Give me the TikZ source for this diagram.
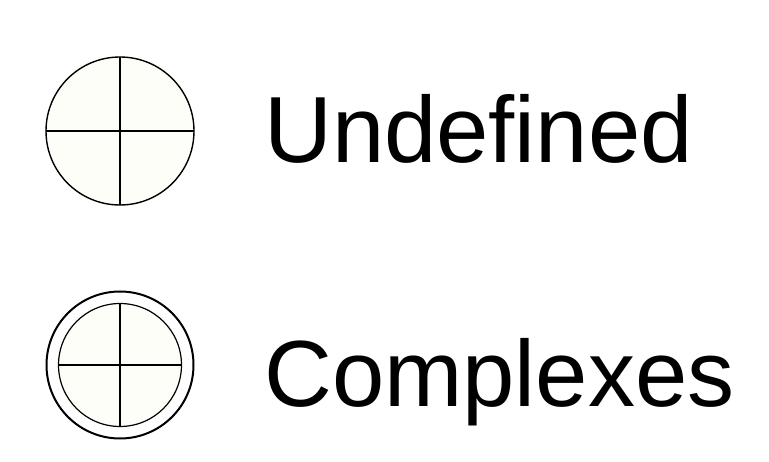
\documentclass[tikz,border=0pt]{standalone}
\usepackage{fontspec}
\setmainfont{Liberation Sans}
\definecolor{ivory}{RGB}{254,254,249}

\begin{document}
\begin{tikzpicture}[x=1pt, y=-1pt,
  glyph/.style={draw, circle, fill=ivory, inner sep=0pt, outer sep=0pt},
  legendtext/.style={anchor=base west, inner sep=0pt, font=\fontsize{94}{100}\selectfont}]
\useasboundingbox (0,0) rectangle (769,462);

% Symbols
\node[glyph, line width=1.4pt, minimum size=148pt] (undef) at (120,131) {};
\node[draw, circle, fill=white, line width=2pt, minimum size=147pt, inner sep=0pt] (cplxout) at (120,365) {};
\node[glyph, line width=1.2pt, minimum size=123pt] (cplx) at (120,365) {};

% Cross lines
\draw[line width=1.2pt] (undef.north) -- (undef.south);
\draw[line width=1.2pt] (undef.west) -- (undef.east);
\draw[line width=1.2pt] (cplx.north) -- (cplx.south);
\draw[line width=1.2pt] (cplx.west) -- (cplx.east);

% Labels
\node[legendtext] (undeflabel) at (264,163) {Undefined};
\node[legendtext] (cplxlabel) at (264,407) {Complexes};

\end{tikzpicture}
\end{document}
